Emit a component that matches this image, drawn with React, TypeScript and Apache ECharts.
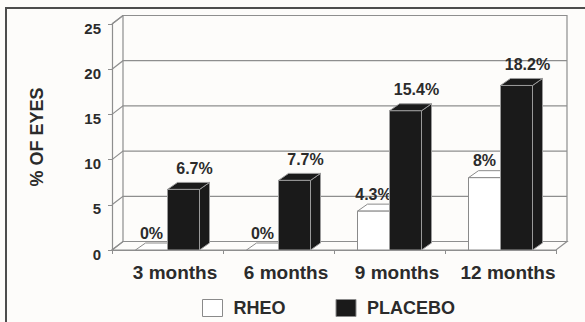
import React, { useEffect, useRef } from "react";
import * as echarts from "echarts";

const categories = ["3 months", "6 months", "9 months", "12 months"];
const rheoValues = [0, 0, 4.3, 8];
const placeboValues = [6.7, 7.7, 15.4, 18.2];
const rheoLabels = ["0%", "0%", "4.3%", "8%"];
const placeboLabels = ["6.7%", "7.7%", "15.4%", "18.2%"];
const yTicks = [0, 5, 10, 15, 20, 25];

const BG = "#fdfcfa";
const GRID_LINE = "#8e8e8e";
const WALL_DX = 11;
const WALL_DY = -8.5;
const BAR_DX = 10;
const BAR_DY = -7;
const BAR_W = 32;
const FONT = '"Liberation Sans", Arial, sans-serif';

function wallRenderer(params: any, api: any) {
  const cs = params.coordSys;
  const left = cs.x;
  const right = cs.x + cs.width;
  const bottom = cs.y + cs.height;
  const top = cs.y;
  const children: any[] = [];
  children.push({
    type: "polygon",
    shape: {
      points: [
        [left, bottom],
        [right, bottom],
        [right + WALL_DX, bottom + WALL_DY],
        [left + WALL_DX, bottom + WALL_DY],
      ],
    },
    style: { fill: BG, stroke: GRID_LINE, lineWidth: 1.2 },
  });
  children.push({
    type: "rect",
    shape: { x: left + WALL_DX, y: top + WALL_DY, width: cs.width, height: cs.height },
    style: { fill: "none", stroke: GRID_LINE, lineWidth: 1.2 },
  });
  children.push({
    type: "line",
    shape: { x1: left, y1: top, x2: left + WALL_DX, y2: top + WALL_DY },
    style: { stroke: GRID_LINE, lineWidth: 1.2 },
  });
  yTicks.forEach((t) => {
    const y = api.coord([0, t])[1];
    children.push({
      type: "polyline",
      shape: {
        points: [
          [left, y],
          [left + WALL_DX, y + WALL_DY],
          [right + WALL_DX, y + WALL_DY],
        ],
      },
      style: { fill: "none", stroke: GRID_LINE, lineWidth: 1.2 },
    });
  });
  return { type: "group", children };
}

function makeBarRenderer(
  side: number,
  fill: string,
  sideFill: string,
  stroke: string,
  labels: string[],
  labelDx: number,
  labelGap: number
) {
  return (params: any, api: any) => {
    const ci = api.value(0);
    const v = api.value(1);
    const base = api.coord([ci, 0]);
    const topPt = api.coord([ci, v]);
    const x0 = side === 0 ? base[0] - BAR_W : base[0];
    const x1 = x0 + BAR_W;
    const yb = base[1];
    const yt = topPt[1];
    const children: any[] = [];
    children.push({
      type: "polygon",
      shape: {
        points: [
          [x1, yb],
          [x1 + BAR_DX, yb + BAR_DY],
          [x1 + BAR_DX, yt + BAR_DY],
          [x1, yt],
        ],
      },
      style: { fill: sideFill, stroke, lineWidth: 1 },
    });
    children.push({
      type: "polygon",
      shape: {
        points: [
          [x0, yt],
          [x0 + BAR_DX, yt + BAR_DY],
          [x1 + BAR_DX, yt + BAR_DY],
          [x1, yt],
        ],
      },
      style: { fill, stroke, lineWidth: 1 },
    });
    if (yb - yt > 0.5) {
      children.push({
        type: "rect",
        shape: { x: x0, y: yt, width: BAR_W, height: yb - yt },
        style: { fill, stroke, lineWidth: 1 },
      });
    }
    children.push({
      type: "text",
      style: {
        text: labels[params.dataIndex],
        x: x0 + BAR_W / 2 + labelDx,
        y: yt + BAR_DY - labelGap,
        align: "center",
        verticalAlign: "bottom",
        fill: "#2b2b2b",
        fontSize: 16,
        fontWeight: "bold",
        fontFamily: FONT,
      },
    });
    return { type: "group", children };
  };
}

export default function App() {
  const ref = useRef<HTMLDivElement>(null);
  useEffect(() => {
    if (!ref.current) return;
    const chart = echarts.init(ref.current, null, { renderer: "svg" });
    const rheoData = rheoValues.map((v, i) => [i, v]);
    const placeboData = placeboValues.map((v, i) => [i, v]);
    chart.setOption({
      animation: false,
      backgroundColor: BG,
      grid: { left: 112, top: 24, width: 444, height: 226 },
      xAxis: {
        type: "category",
        data: categories,
        axisLine: { show: true, lineStyle: { color: GRID_LINE, width: 1.2 } },
        axisTick: { show: true, length: 4, lineStyle: { color: GRID_LINE } },
        axisLabel: {
          interval: 0,
          margin: 13,
          padding: [0, 0, 0, 15],
          color: "#2b2b2b",
          fontSize: 19,
          fontWeight: "bold",
          fontFamily: FONT,
        },
        splitLine: { show: false },
      },
      yAxis: {
        type: "value",
        min: 0,
        max: 25,
        interval: 5,
        name: "% OF EYES",
        nameLocation: "middle",
        nameGap: 66,
        nameRotate: 90,
        nameTextStyle: {
          color: "#2b2b2b",
          fontSize: 18,
          fontWeight: "bold",
          fontFamily: FONT,
        },
        axisLine: { show: true, lineStyle: { color: GRID_LINE, width: 1.2 } },
        axisTick: { show: true, length: 4, lineStyle: { color: GRID_LINE } },
        axisLabel: {
          margin: 11,
          verticalAlign: "top",
          lineHeight: 8,
          color: "#2b2b2b",
          fontSize: 15,
          fontWeight: "bold",
          fontFamily: FONT,
        },
        splitLine: { show: false },
      },
      legend: {
        left: 202,
        top: 299,
        padding: 0,
        icon: "rect",
        itemWidth: 20,
        itemHeight: 17,
        itemGap: 50,
        textStyle: {
          color: "#2b2b2b",
          fontSize: 18,
          fontWeight: "bold",
          fontFamily: FONT,
          padding: [0, 0, 0, 6],
        },
        data: [
          { name: "RHEO", itemStyle: { color: "#ffffff", borderColor: "#8a8a8a", borderWidth: 1 } },
          { name: "PLACEBO", itemStyle: { color: "#1a1a1a", borderColor: "#8a8a8a", borderWidth: 1 } },
        ],
      },
      graphic: [
        {
          type: "rect",
          silent: true,
          shape: { x: 6, y: 8, width: 700, height: 400 },
          style: { fill: "none", stroke: "#4d4d4d", lineWidth: 2 },
          z: 100,
        },
      ],
      series: [
        {
          type: "custom",
          name: "walls",
          data: [[0, 0]],
          encode: { x: 0, y: 1 },
          clip: false,
          silent: true,
          z: 1,
          renderItem: wallRenderer,
        },
        {
          type: "custom",
          name: "RHEO",
          data: rheoData,
          encode: { x: 0, y: 1 },
          clip: false,
          z: 2,
          itemStyle: { color: "#ffffff", borderColor: "#8a8a8a" },
          renderItem: makeBarRenderer(0, "#ffffff", "#ffffff", "#8a8a8a", rheoLabels, 0, 2),
        },
        {
          type: "custom",
          name: "PLACEBO",
          data: placeboData,
          encode: { x: 0, y: 1 },
          clip: false,
          z: 3,
          itemStyle: { color: "#1a1a1a" },
          renderItem: makeBarRenderer(1, "#1a1a1a", "#1a1a1a", "#9a9a9a", placeboLabels, 11, 6),
        },
      ],
    });
    return () => chart.dispose();
  }, []);
  return (
    <div
      ref={ref}
      style={{ position: "fixed", left: 0, top: 0, width: 585, height: 322 }}
    />
  );
}
